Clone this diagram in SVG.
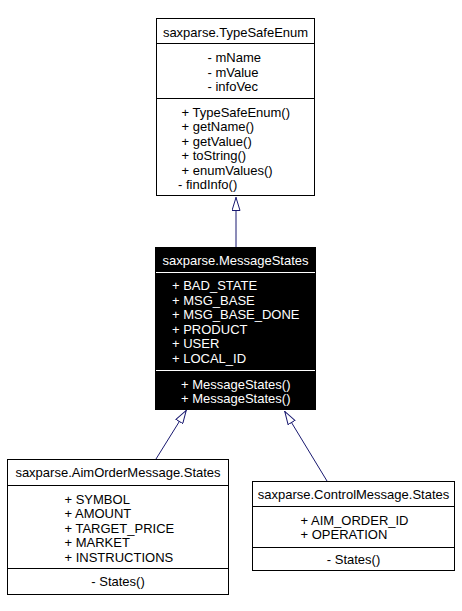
<svg xmlns="http://www.w3.org/2000/svg" width="462" height="611" viewBox="0 0 462 611">
<style>
text{font-family:"Liberation Sans",Arial,sans-serif;font-size:13px;fill:#000}
.box{fill:#fff;stroke:#000;stroke-width:1}
.dark{fill:#000;stroke:#000;stroke-width:1}
.div{stroke:#000;stroke-width:1}
.divw{stroke:#fff;stroke-width:1}
.w{fill:#fff}
.c{text-anchor:middle}
.edge{fill:none;stroke:#191970;stroke-width:1}
</style>
<defs>
<marker id="tri" viewBox="0 0 14 9" refX="14" refY="4.5" markerWidth="14" markerHeight="9" markerUnits="userSpaceOnUse" orient="auto">
<path d="M0.5,0.5 L13.5,4.5 L0.5,8.5 Z" fill="#fff" stroke="#191970" stroke-width="1"/>
</marker>
</defs>
<rect width="462" height="611" fill="#fff"/>
<g id="connectors">
<path class="edge" d="M236,247 L236,197" marker-end="url(#tri)"/>
<path class="edge" d="M156,459 L186.5,410" marker-end="url(#tri)"/>
<path class="edge" d="M327,481 L284.5,411" marker-end="url(#tri)"/>
</g>
<g id="TypeSafeEnum">
<rect class="box" x="156.5" y="18.5" width="158" height="177"/>
<line class="div" x1="156.5" y1="43.5" x2="314.5" y2="43.5"/>
<line class="div" x1="156.5" y1="98.5" x2="314.5" y2="98.5"/>
<text class="c" x="235.5" y="37">saxparse.TypeSafeEnum</text>
<text x="207.5" y="62">- mName</text>
<text x="207.5" y="76.5">- mValue</text>
<text x="207.5" y="91">- infoVec</text>
<text x="181.5" y="116.5">+ TypeSafeEnum()</text>
<text x="181.5" y="131">+ getName()</text>
<text x="181.5" y="145.5">+ getValue()</text>
<text x="181.5" y="160">+ toString()</text>
<text x="181.5" y="174.5">+ enumValues()</text>
<text x="178" y="189">- findInfo()</text>
</g>
<g id="MessageStates">
<rect class="dark" x="155.5" y="247.5" width="160" height="162"/>
<line class="divw" x1="156" y1="272.5" x2="315" y2="272.5"/>
<line class="divw" x1="156" y1="370.5" x2="315" y2="370.5"/>
<text class="c w" x="235.5" y="265">saxparse.MessageStates</text>
<text class="w" x="172" y="290">+ BAD_STATE</text>
<text class="w" x="172" y="304.5">+ MSG_BASE</text>
<text class="w" x="172" y="319">+ MSG_BASE_DONE</text>
<text class="w" x="172" y="333.5">+ PRODUCT</text>
<text class="w" x="172" y="348">+ USER</text>
<text class="w" x="172" y="362.5">+ LOCAL_ID</text>
<text class="w" x="181" y="388.5">+ MessageStates()</text>
<text class="w" x="181" y="403">+ MessageStates()</text>
</g>
<g id="AimOrderMessageStates">
<rect class="box" x="7.5" y="459.5" width="221" height="135"/>
<line class="div" x1="7.5" y1="485.5" x2="228.5" y2="485.5"/>
<line class="div" x1="7.5" y1="568.5" x2="228.5" y2="568.5"/>
<text class="c" x="118" y="476.5">saxparse.AimOrderMessage.States</text>
<text x="64.5" y="503.5">+ SYMBOL</text>
<text x="64.5" y="518">+ AMOUNT</text>
<text x="64.5" y="532.5">+ TARGET_PRICE</text>
<text x="64.5" y="547">+ MARKET</text>
<text x="64.5" y="561.5">+ INSTRUCTIONS</text>
<text class="c" x="118" y="586">- States()</text>
</g>
<g id="ControlMessageStates">
<rect class="box" x="252.5" y="481.5" width="202" height="89"/>
<line class="div" x1="252.5" y1="506.5" x2="454.5" y2="506.5"/>
<line class="div" x1="252.5" y1="547.5" x2="454.5" y2="547.5"/>
<text class="c" x="353.5" y="498.5">saxparse.ControlMessage.States</text>
<text x="300.5" y="524.5">+ AIM_ORDER_ID</text>
<text x="300.5" y="539">+ OPERATION</text>
<text class="c" x="353.5" y="564">- States()</text>
</g>
</svg>
